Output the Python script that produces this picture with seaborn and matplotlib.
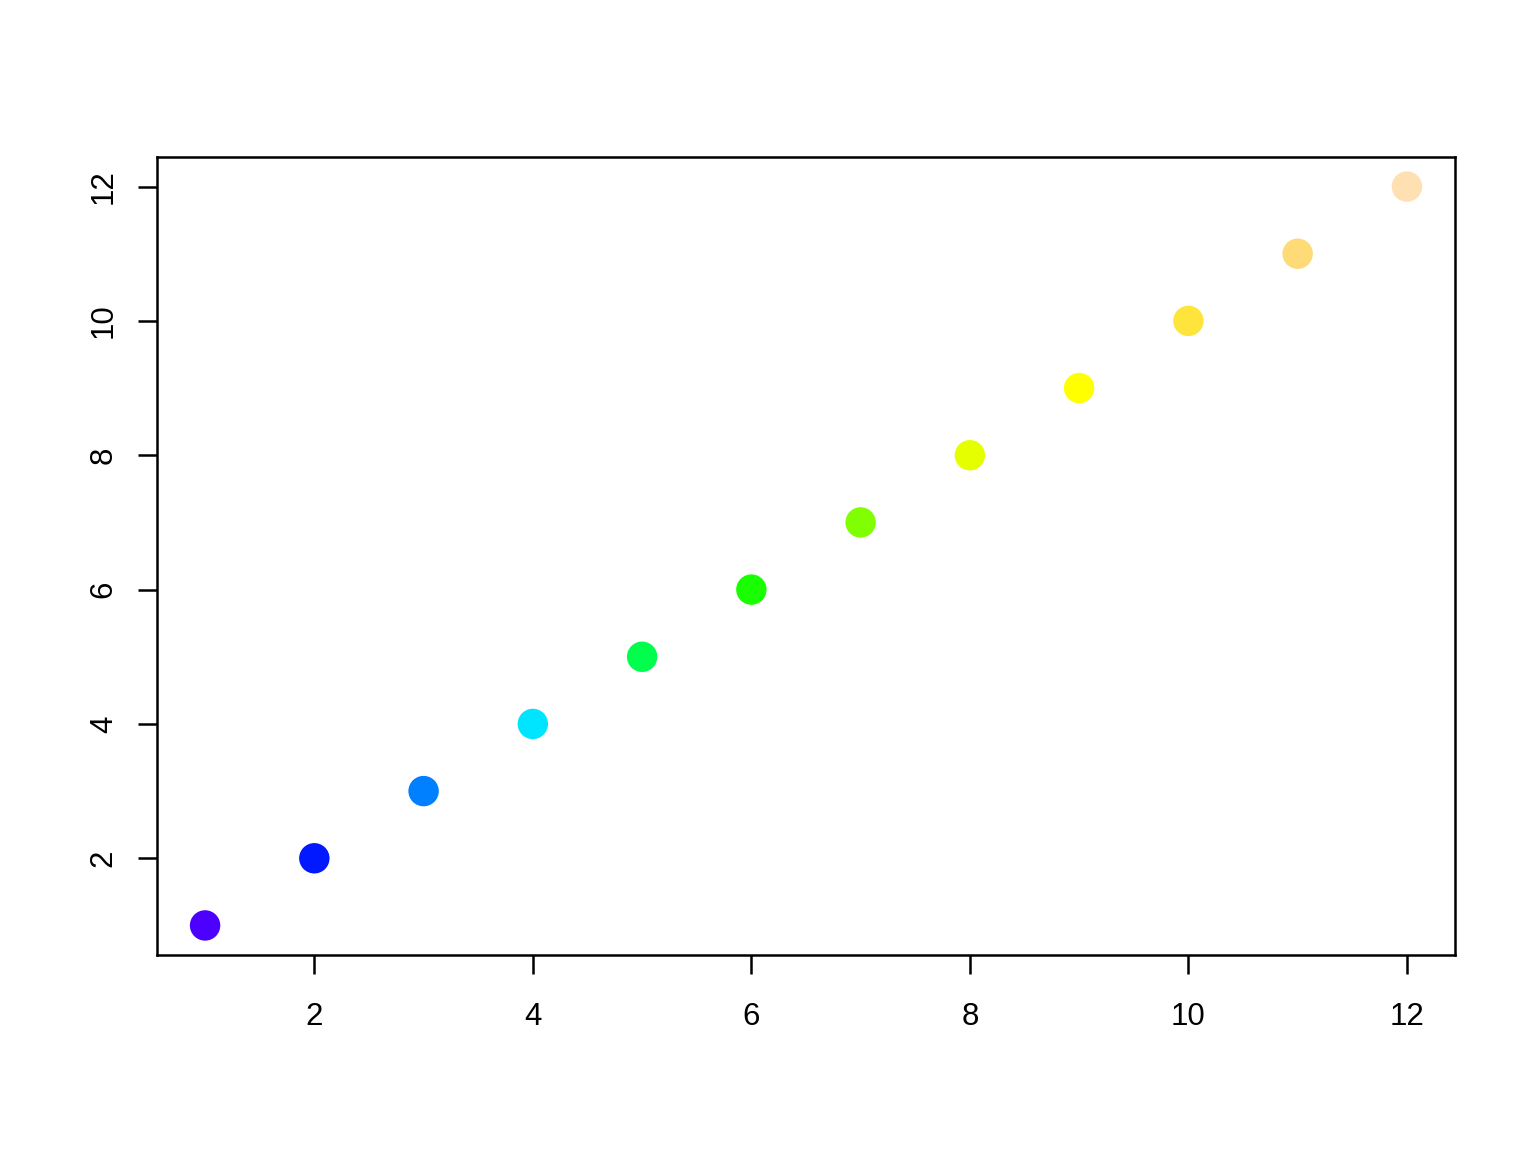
import matplotlib
matplotlib.use("Agg")
import matplotlib.pyplot as plt
import seaborn as sns
import pandas as pd

x_vals = [1, 2, 3, 4, 5, 6, 7, 8, 9, 10, 11, 12]
y_vals = [1, 2, 3, 4, 5, 6, 7, 8, 9, 10, 11, 12]
point_colors = ["#4C00FF", "#0019FF", "#0080FF", "#00E5FF", "#00FF4D", "#1AFF00",
                "#80FF00", "#E6FF00", "#FFFF00", "#FFE53B", "#FFDB77", "#FFE0B3"]
tick_vals = [2, 4, 6, 8, 10, 12]

sns.set_style("white")
plt.rcParams['font.family'] = ['Liberation Sans', 'DejaVu Sans']

df = pd.DataFrame({"x": x_vals, "y": y_vals, "c": [str(v) for v in x_vals]})

fig = plt.figure(figsize=(15.36, 11.52), dpi=100)
ax = fig.add_axes([157/1536, 1 - 955/1152, (1455-157)/1536, (955-157)/1152])

sns.scatterplot(data=df, x="x", y="y", hue="c", palette=point_colors,
                s=480, linewidth=0, legend=False, ax=ax)

ax.set_xlim(1 - 0.44, 12 + 0.44)
ax.set_ylim(1 - 0.44, 12 + 0.44)
ax.set_xticks(tick_vals)
ax.set_yticks(tick_vals)
ax.set_xticklabels([str(t) for t in tick_vals])
ax.set_yticklabels([str(t) for t in tick_vals], rotation=90, va="center")
ax.set_xlabel("")
ax.set_ylabel("")
ax.tick_params(axis="both", direction="out", length=13.5, width=1.8,
               labelsize=22.5, color="black", labelcolor="black")
ax.tick_params(axis="x", bottom=True, pad=20)
ax.tick_params(axis="y", left=True, pad=14)
for sp in ax.spines.values():
    sp.set_visible(True)
    sp.set_color("black")
    sp.set_linewidth(1.8)

fig.savefig("out.png", dpi=100, facecolor="white")
